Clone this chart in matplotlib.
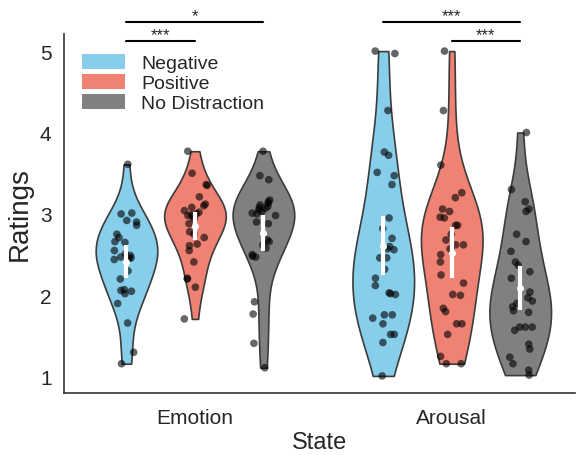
import numpy as np
import pandas as pd
import matplotlib
matplotlib.use("Agg")
import matplotlib.pyplot as plt
import seaborn as sns
from matplotlib.patches import Patch

# ---------------- data ----------------
states = ["Emotion", "Arousal"]
conditions = ["Negative", "Positive", "No Distraction"]
colors = ["#87CEEB", "#F08274", "#808080"]

emotion_negative = [3.61, 3.01, 3.00, 2.92, 2.90, 2.86, 2.75, 2.71, 2.66, 2.65, 2.55, 2.51,
                    2.49, 2.47, 2.46, 2.45, 2.44, 2.30, 2.20, 2.07, 2.06, 2.05, 2.02, 1.90,
                    1.66, 1.30, 1.16]
emotion_positive = [3.77, 3.50, 3.36, 3.35, 3.21, 3.12, 3.10, 3.08, 3.04, 3.02, 3.00, 2.99,
                    2.98, 2.97, 2.94, 2.88, 2.78, 2.75, 2.71, 2.63, 2.61, 2.55, 2.41, 2.21,
                    2.20, 2.10, 1.71]
emotion_nodistraction = [3.77, 3.47, 3.42, 3.17, 3.15, 3.13, 3.11, 3.09, 3.08, 3.07, 3.05,
                         3.03, 3.01, 3.00, 2.98, 2.90, 2.88, 2.68, 2.66, 2.62, 2.58, 2.50,
                         2.48, 2.47, 1.92, 1.77, 1.41, 1.11]
arousal_negative = [5.00, 4.97, 4.27, 3.76, 3.72, 3.51, 3.47, 3.36, 2.95, 2.82, 2.70, 2.60,
                    2.57, 2.56, 2.46, 2.46, 2.32, 2.21, 2.12, 2.03, 2.02, 2.01, 1.76, 1.76,
                    1.72, 1.65, 1.52, 1.52, 1.42, 1.01]
arousal_positive = [5.00, 4.27, 3.60, 3.26, 3.20, 3.06, 3.03, 2.96, 2.95, 2.86, 2.86, 2.75,
                    2.68, 2.62, 2.62, 2.57, 2.50, 2.41, 2.25, 2.15, 2.01, 2.00, 1.84, 1.80,
                    1.65, 1.65, 1.52, 1.25, 1.16, 1.16]
arousal_nodistraction = [4.00, 3.30, 3.15, 3.06, 3.03, 2.75, 2.66, 2.54, 2.41, 2.37, 2.29,
                         2.21, 2.04, 1.97, 1.93, 1.90, 1.86, 1.81, 1.79, 1.61, 1.61, 1.61,
                         1.57, 1.40, 1.34, 1.24, 1.16, 1.08, 1.02]

y_ticks = [1, 2, 3, 4, 5]

# significance comparisons: (state, condition a, condition b, level, label)
sig_state = ["Emotion", "Emotion", "Arousal", "Arousal"]
sig_cond_a = ["Negative", "Negative", "Negative", "Positive"]
sig_cond_b = ["No Distraction", "Positive", "No Distraction", "No Distraction"]
sig_level = [1, 0, 1, 0]
sig_label = ["*", "***", "***", "***"]

groups = {
    ("Emotion", "Negative"): emotion_negative,
    ("Emotion", "Positive"): emotion_positive,
    ("Emotion", "No Distraction"): emotion_nodistraction,
    ("Arousal", "Negative"): arousal_negative,
    ("Arousal", "Positive"): arousal_positive,
    ("Arousal", "No Distraction"): arousal_nodistraction,
}
rows = []
for (s, c), vals in groups.items():
    for v in vals:
        rows.append({"State": s, "Condition": c, "Rating": v})
df = pd.DataFrame(rows)

# ---------------- plot ----------------
sns.set_style("white")
plt.rcParams["font.family"] = ["Liberation Sans", "DejaVu Sans"]
np.random.seed(3)

W, H = 582, 456
fig = plt.figure(figsize=(W / 100, H / 100), dpi=100)
ax = fig.add_axes([64 / W, 1 - 394 / H, (575 - 64) / W, (394 - 35) / H])

sns.violinplot(data=df, x="State", y="Rating", hue="Condition",
               order=states, hue_order=conditions, palette=colors, saturation=1, cut=0,
               inner=None, density_norm="width", gap=0.1, bw_adjust=1.0,
               linewidth=1.2, linecolor="#3c3c3c", ax=ax, legend=False)
sns.stripplot(data=df, x="State", y="Rating", hue="Condition", order=states,
              hue_order=conditions, palette={c: "black" for c in conditions}, dodge=True,
              jitter=0.15, size=5.5, alpha=0.6, linewidth=0, ax=ax, legend=False, zorder=3)

n_h = len(conditions)
offsets = (np.arange(n_h) - (n_h - 1) / 2) * 0.8 / n_h
pos = {}
for i, s in enumerate(states):
    for j, c in enumerate(conditions):
        pos[(s, c)] = i + offsets[j]
        vals = np.asarray(groups[(s, c)])
        m = vals.mean()
        ci = 1.96 * vals.std(ddof=1) / np.sqrt(len(vals))
        ax.vlines(pos[(s, c)], m - ci, m + ci, color="white", lw=3, zorder=5)
        ax.plot(pos[(s, c)], m, "o", color="white", ms=4, zorder=6)

ax.set_xlim(-0.51, 1.48)
ax.set_ylim(0.80, 5.21)
ax.set_yticks(y_ticks)
ax.tick_params(axis="both", length=0, labelsize=15, colors="#262626")
ax.tick_params(axis="y", pad=9)
ax.tick_params(axis="x", pad=11)
ax.set_xlabel("State", fontsize=17, color="#262626", labelpad=3)
ax.set_ylabel("Ratings", fontsize=20, color="#262626", labelpad=5)
sns.despine(ax=ax)
for sp in ["left", "bottom"]:
    ax.spines[sp].set_color("#333333")
    ax.spines[sp].set_linewidth(1.2)

# significance bars
trans = ax.get_xaxis_transform()
level_y = [0.981, 1.034]
for s, a, b, lv, lab in zip(sig_state, sig_cond_a, sig_cond_b, sig_level, sig_label):
    x1, x2 = pos[(s, a)], pos[(s, b)]
    y = level_y[lv]
    ax.plot([x1, x2], [y, y], color="black", lw=1.5, transform=trans, clip_on=False)
    ax.text((x1 + x2) / 2, y + 0.006, lab, ha="center", va="baseline", fontsize=12,
            transform=trans, clip_on=False)

handles = [Patch(facecolor=col, edgecolor="none", label=c) for c, col in zip(conditions, colors)]
ax.legend(handles=handles, loc="upper left", bbox_to_anchor=(0.035, 0.945), frameon=False,
          fontsize=14, handlelength=2.2, handleheight=0.8, handletextpad=0.85,
          labelspacing=0.1, borderpad=0, borderaxespad=0)

fig.savefig("out.png", dpi=100)
